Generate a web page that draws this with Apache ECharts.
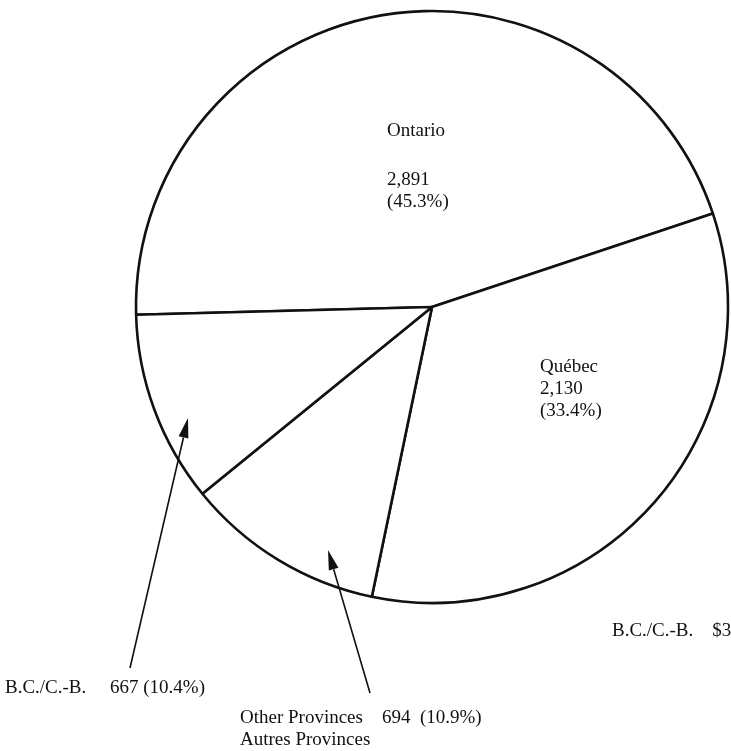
<!DOCTYPE html>
<html>
<head>
<meta charset="utf-8">
<title>Provincial distribution</title>
<script src="https://cdn.jsdelivr.net/npm/echarts@6/dist/echarts.min.js"></script>
<style>
  html, body { margin: 0; padding: 0; background: #fff; }
  #chart { width: 731px; height: 751px; }
</style>
</head>
<body>
<div id="chart"></div>
<script>
// Slices, clockwise from the left edge of the circle
const categories = ['Ontario', 'Québec', 'Other Provinces', 'B.C./C.-B.'];
const secondNames = ['', '', 'Autres Provinces', ''];
const amounts = [2891, 2130, 694, 667];
const shares = ['45.3%', '33.4%', '10.9%', '10.4%'];
const footNote = ['B.C./C.-B.', '$3'];

const FONT = '"Liberation Serif", "Times New Roman", Times, serif';
const INK = '#111';

const fmt = v => v.toLocaleString('en-US');

// label text for each slice
function labelText(i) {
  const n = categories[i], v = fmt(amounts[i]), s = '(' + shares[i] + ')';
  if (i === 0) return '{n|' + n + '}\n{s|}\n{n|' + v + '}\n{n|' + s + '}';
  if (i === 1) return n + '\n' + v + '\n' + s;
  if (i === 2) return n + '    ' + v + '  ' + s + '\n' + secondNames[i];
  return n + '     ' + v + ' ' + s;
}

// where each slice label sits (top-left corner of the text block)
const labelSpots = [
  { x: 387, y: 120 },
  { x: 540, y: 356 },
  { x: 240, y: 707 },
  { x: 5, y: 677 }
];

const chart = echarts.init(document.getElementById('chart'), null, { renderer: 'canvas' });

const data = categories.map((c, i) => ({
  name: c,
  value: amounts[i],
  label: { formatter: labelText(i) }
}));

// arrows pointing from the outside labels into their slices
function arrow(x1, y1, x2, y2) {
  const ang = Math.atan2(y2 - y1, x2 - x1);
  const L = 20, W = 5;
  const bx = x2 - L * Math.cos(ang), by = y2 - L * Math.sin(ang);
  const px = -Math.sin(ang) * W, py = Math.cos(ang) * W;
  return [
    { type: 'line', z: 100, shape: { x1: x1, y1: y1, x2: bx, y2: by },
      style: { stroke: INK, lineWidth: 1.6 }, silent: true },
    { type: 'polygon', z: 100, shape: { points: [[x2, y2], [bx + px, by + py], [bx - px, by - py]] },
      style: { fill: INK }, silent: true }
  ];
}

chart.setOption({
  backgroundColor: '#fff',
  animation: false,
  series: [{
    type: 'pie',
    center: [432, 307],
    radius: [0, 296],
    startAngle: 181.5,
    clockwise: true,
    avoidLabelOverlap: false,
    silent: true,
    itemStyle: { color: '#fff', borderColor: INK, borderWidth: 2.6 },
    label: {
      show: true,
      position: 'outside',
      color: INK,
      fontFamily: FONT,
      fontSize: 19,
      lineHeight: 22,
      align: 'left',
      rich: {
        n: { fontFamily: FONT, fontSize: 19, lineHeight: 22, color: INK },
        s: { fontFamily: FONT, fontSize: 19, lineHeight: 27, color: INK }
      }
    },
    labelLine: { show: false },
    labelLayout: function (params) {
      const p = labelSpots[params.dataIndex];
      return { x: p.x, y: p.y, align: 'left', verticalAlign: 'top', hideOverlap: false };
    },
    emphasis: { disabled: true },
    data: data
  }],
  graphic: [
    ...arrow(130, 668, 188, 418),
    ...arrow(370, 693, 328, 550),
    {
      type: 'text', left: 612, top: 622, z: 100, silent: true,
      style: { text: footNote[0] + '    ' + footNote[1], fill: INK, font: '19px ' + FONT }
    }
  ]
});
</script>
</body>
</html>
